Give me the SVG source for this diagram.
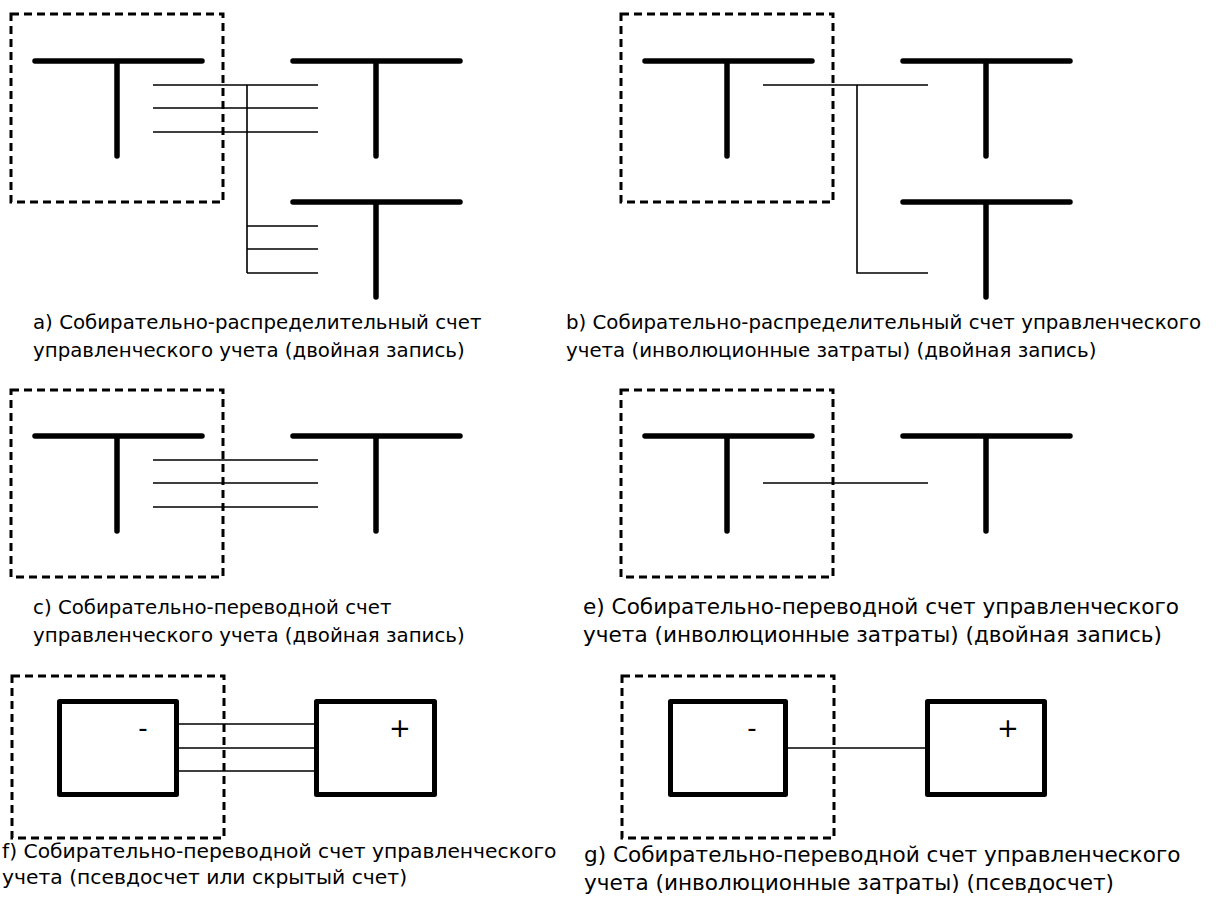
<svg xmlns="http://www.w3.org/2000/svg" width="1221" height="908" viewBox="0 0 1221 908">
<style>
.dash{fill:none;stroke:#000;stroke-width:3;stroke-dasharray:8 5}
.t{fill:none;stroke:#000;stroke-width:5.5;stroke-linecap:round}
.thin{fill:none;stroke:#000;stroke-width:1.6}
.box{fill:#fff;stroke:#000;stroke-width:5;stroke-linejoin:round}
.lbl{font-family:"DejaVu Sans","Noto Sans",sans-serif;font-size:19.8px;fill:#000}
.lbl2{font-family:"DejaVu Sans","Noto Sans",sans-serif;font-size:21.6px;fill:#000}
.lbl3{font-family:"DejaVu Sans","Noto Sans",sans-serif;font-size:20.3px;fill:#000}
.sign{font-family:"DejaVu Sans","Noto Sans",sans-serif;font-size:26px;fill:#000;text-anchor:middle}
</style>
<rect width="1221" height="908" fill="#fff"/>

<!-- Panel a -->
<g id="panel-a">
  <rect class="dash" x="11" y="14" width="212" height="188"/>
  <g id="a-t1"><path class="t" d="M35 61H202M117 61V156"/></g>
  <g id="a-t2"><path class="t" d="M293 61H460M376 61V156"/></g>
  <g id="a-t3"><path class="t" d="M293 202H460M376 202V297"/></g>
</g>
<g id="a-connectors">
  <path class="thin" d="M153 85H318M153 108H318M153 132H318M247 85V273M247 226H318M247 249H318M247 273H318"/>
</g>
<text class="lbl" x="33" y="329">а) Собирательно-распределительный счет</text>
<text class="lbl" x="33" y="357">управленческого учета (двойная запись)</text>

<!-- Panel b -->
<g id="panel-b">
  <rect class="dash" x="621" y="14" width="212" height="188"/>
  <g id="b-t1"><path class="t" d="M645 61H812M727 61V156"/></g>
  <g id="b-t2"><path class="t" d="M903 61H1070M986 61V156"/></g>
  <g id="b-t3"><path class="t" d="M903 202H1070M986 202V297"/></g>
</g>
<g id="b-connectors">
  <path class="thin" d="M763 85H928M857 85V273H928"/>
</g>
<text class="lbl" x="566" y="329">b) Собирательно-распределительный счет управленческого</text>
<text class="lbl" x="566" y="357">учета (инволюционные затраты) (двойная запись)</text>

<!-- Panel c -->
<g id="panel-c">
  <rect class="dash" x="11" y="390" width="212" height="187"/>
  <g id="c-t1"><path class="t" d="M35 436H202M117 436V531"/></g>
  <g id="c-t2"><path class="t" d="M293 436H460M376 436V531"/></g>
</g>
<g id="c-connectors">
  <path class="thin" d="M153 460H318M153 483H318M153 507H318"/>
</g>
<text class="lbl" x="33" y="614">c) Собирательно-переводной счет</text>
<text class="lbl" x="33" y="642">управленческого учета (двойная запись)</text>

<!-- Panel e -->
<g id="panel-e">
  <rect class="dash" x="621" y="390" width="212" height="187"/>
  <g id="e-t1"><path class="t" d="M645 436H812M727 436V531"/></g>
  <g id="e-t2"><path class="t" d="M903 436H1070M986 436V531"/></g>
</g>
<g id="e-connectors">
  <path class="thin" d="M763 483H928"/>
</g>
<text class="lbl2" x="583" y="614">e) Собирательно-переводной счет управленческого</text>
<text class="lbl2" x="583" y="642">учета (инволюционные затраты) (двойная запись)</text>

<!-- Panel f -->
<g id="panel-f">
  <rect class="dash" x="12" y="676" width="212" height="162"/>
  <g id="f-minus"><rect class="box" x="59.5" y="701.5" width="117" height="93"/><text class="sign" x="143" y="737">-</text></g>
  <g id="f-plus"><rect class="box" x="316.5" y="701.5" width="118" height="93"/><text class="sign" x="400" y="737">+</text></g>
</g>
<g id="f-connectors">
  <path class="thin" d="M179 724H314M179 748H314M179 771H314"/>
</g>
<text class="lbl3" x="2" y="858">f) Собирательно-переводной счет управленческого</text>
<text class="lbl3" x="2" y="884">учета (псевдосчет или скрытый счет)</text>

<!-- Panel g -->
<g id="panel-g">
  <rect class="dash" x="622" y="676" width="212" height="162"/>
  <g id="g-minus"><rect class="box" x="670.5" y="701.5" width="115" height="93"/><text class="sign" x="752" y="737">-</text></g>
  <g id="g-plus"><rect class="box" x="927.5" y="701.5" width="117" height="93"/><text class="sign" x="1008" y="737">+</text></g>
</g>
<g id="g-connectors">
  <path class="thin" d="M788 748H925"/>
</g>
<text class="lbl2" x="584" y="862">g) Собирательно-переводной счет управленческого</text>
<text class="lbl2" x="584" y="890">учета (инволюционные затраты) (псевдосчет)</text>
</svg>
